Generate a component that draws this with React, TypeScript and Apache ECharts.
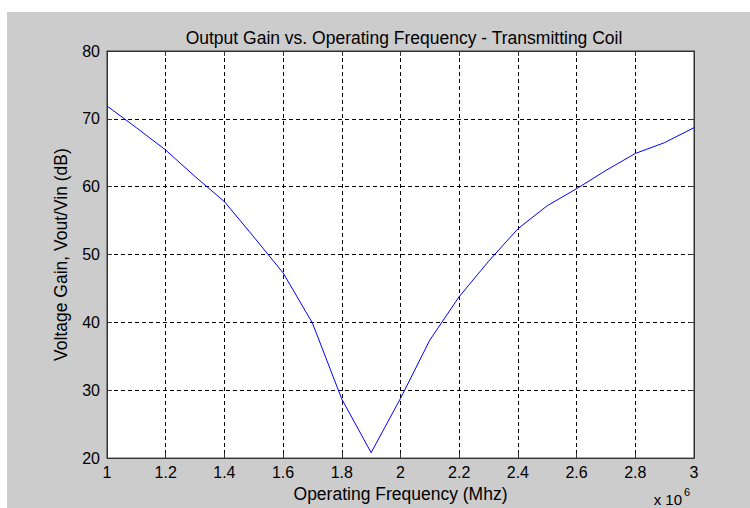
import React, { useEffect, useRef } from "react";
import * as echarts from "echarts";

// Operating frequency (Hz) and measured voltage gain (dB)
const frequencyHz = [
  1.0e6, 1.1e6, 1.2e6, 1.3e6, 1.4e6, 1.5e6, 1.6e6, 1.7e6, 1.8e6, 1.9e6, 2.0e6,
  2.1e6, 2.2e6, 2.3e6, 2.4e6, 2.5e6, 2.6e6, 2.7e6, 2.8e6, 2.9e6, 3.0e6,
];
const gainDb = [
  71.9, 68.7, 65.4, 61.5, 57.8, 52.6, 47.3, 39.9, 28.7, 20.8, 28.8,
  37.4, 43.8, 49.0, 53.8, 57.2, 59.7, 62.4, 64.9, 66.5, 68.7,
];

const titleText = "Output Gain vs. Operating Frequency - Transmitting Coil";
const xLabel = "Operating Frequency (Mhz)";
const yLabel = "Voltage Gain, Vout/Vin (dB)";
const xScaleBase = "x 10";
const xScaleExp = "6";

const FONT = "'Liberation Sans', Arial, Helvetica, sans-serif";

export default function App() {
  const ref = useRef<HTMLDivElement>(null);

  useEffect(() => {
    if (!ref.current) return;
    const chart = echarts.init(ref.current, undefined, { renderer: "svg" });

    const gridStyle = {
      show: true,
      lineStyle: { color: "#000", width: 1, type: [4, 3] as number[] },
    };
    const axisLine = { show: true, lineStyle: { color: "#333", width: 1 } };
    const axisTick = {
      show: true,
      inside: true,
      length: 5,
      lineStyle: { color: "#333", width: 1 },
    };

    const xCommon = {
      type: "value" as const,
      min: 1e6,
      max: 3e6,
      interval: 2e5,
    };
    const yCommon = {
      type: "value" as const,
      min: 20,
      max: 80,
      interval: 10,
    };

    chart.setOption({
      animation: false,
      backgroundColor: "transparent",
      textStyle: { fontFamily: FONT },
      title: {
        text: titleText,
        left: 392,
        top: 12,
        textAlign: "center",
        textStyle: {
          fontFamily: FONT,
          fontSize: 17.5,
          fontWeight: "normal",
          color: "#000",
        },
      },
      grid: {
        left: 100,
        top: 39,
        width: 587,
        height: 411,
        show: true,
        backgroundColor: "#fff",
        borderColor: "#333",
        borderWidth: 1,
      },
      xAxis: [
        {
          ...xCommon,
          position: "bottom",
          name: xLabel,
          nameLocation: "middle",
          nameGap: 26,
          nameTextStyle: { fontFamily: FONT, fontSize: 17.5, color: "#000" },
          axisLine,
          axisTick,
          splitLine: gridStyle,
          axisLabel: {
            fontFamily: FONT,
            fontSize: 16,
            color: "#000",
            margin: 6,
            formatter: (v: number) => String(Math.round(v / 1e5) / 10),
          },
        },
        {
          ...xCommon,
          position: "top",
          axisLine,
          axisTick,
          splitLine: { show: false },
          axisLabel: { show: false },
        },
      ],
      yAxis: [
        {
          ...yCommon,
          position: "left",
          name: yLabel,
          nameLocation: "middle",
          nameGap: 37,
          nameTextStyle: { fontFamily: FONT, fontSize: 17.5, color: "#000" },
          axisLine,
          axisTick,
          splitLine: gridStyle,
          axisLabel: {
            fontFamily: FONT,
            fontSize: 16,
            color: "#000",
            margin: 7,
          },
        },
        {
          ...yCommon,
          position: "right",
          axisLine,
          axisTick,
          splitLine: { show: false },
          axisLabel: { show: false },
        },
      ],
      graphic: [
        {
          type: "text",
          x: 675,
          y: 487,
          style: {
            text: xScaleBase,
            fontFamily: FONT,
            fontSize: 15,
            fill: "#000",
            align: "right",
            verticalAlign: "middle",
          },
        },
        {
          type: "text",
          x: 677,
          y: 480,
          style: {
            text: xScaleExp,
            fontFamily: FONT,
            fontSize: 11,
            fill: "#000",
            align: "left",
            verticalAlign: "middle",
          },
        },
      ],
      series: [
        {
          type: "line",
          xAxisIndex: 0,
          yAxisIndex: 0,
          data: frequencyHz.map((f, i) => [f, gainDb[i]]),
          showSymbol: false,
          symbol: "none",
          lineStyle: { color: "#0000ff", width: 1 },
          silent: true,
        },
      ],
    });

    return () => chart.dispose();
  }, []);

  return (
    <div
      style={{
        position: "fixed",
        left: 0,
        top: 0,
        width: 750,
        height: 508,
        background: "#fff",
        overflow: "hidden",
      }}
    >
      <div
        ref={ref}
        style={{
          position: "absolute",
          left: 7,
          top: 12,
          width: 743,
          height: 496,
          background: "#cccccc",
        }}
      />
    </div>
  );
}
